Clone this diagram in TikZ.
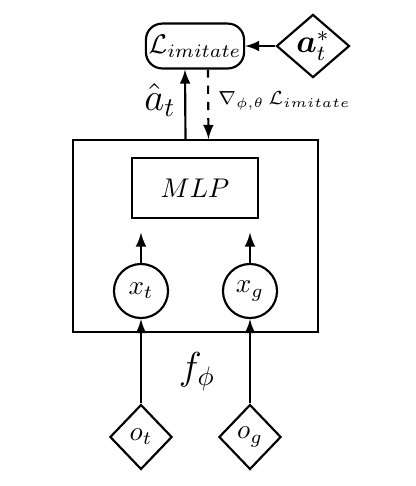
\documentclass[tikz,border=0pt]{standalone}
\usepackage{amsmath,bm}
\usetikzlibrary{shapes.geometric}
\begin{document}
\begin{tikzpicture}[x=0.37pt, y=-0.37pt, >=latex, thick,
		box/.style = {draw, rectangle},
		main/.style = {draw, circle, minimum size=20pt, inner sep=0pt},
		obs/.style = {draw, diamond, minimum width=23pt, minimum height=24pt, inner sep=0pt}]
	\useasboundingbox (0,0) rectangle (416,486);

	\node[box, minimum width=90.7pt, minimum height=71pt] (enc) at (195.5,236) {};
	\node[box, minimum width=46.6pt, minimum height=22.2pt] (mlp) at (195,188) {$MLP$};
	\node[main] (xt) at (141,291) {$x_t$};
	\node[main] (xg) at (250,291) {$x_g$};
	\node[obs] (ot) at (141,437) {$o_t$};
	\node[obs] (og) at (250,437) {$o_g$};
	\node[box, rounded corners=6pt, inner sep=1pt, minimum width=34.8pt, minimum height=16.6pt] (loss) at (195,46) {$\mathcal{L}_{imitate}$};
	\node[draw, diamond, minimum width=27pt, minimum height=21.5pt, inner sep=0pt] (astar) at (313,46) {\large $\bm{a}_t^*$};
	\node (fphi) at (197,372) {\Large $f_\phi$};
	\node (ahat) at (160,100) {\Large $\hat{a}_t$};
	\node[anchor=west, inner sep=0pt] (grad) at (217,101) {\scriptsize $\nabla_{\phi,\theta}\,\mathcal{L}_{imitate}$};

	\draw[->] (ot) to (xt);
	\draw[->] (og) to (xg);
	\draw[->, shorten >=5pt] (xt) to (xt |- mlp.south);
	\draw[->, shorten >=5pt] (xg) to (xg |- mlp.south);
	\draw[->] ([xshift=-3.7pt]enc.north) to ([xshift=-3.7pt]loss.south);
	\draw[->, dashed] ([xshift=4.8pt]loss.south) to ([xshift=4.8pt]enc.north);
	\draw[->] (astar) to (loss);
\end{tikzpicture}
\end{document}
